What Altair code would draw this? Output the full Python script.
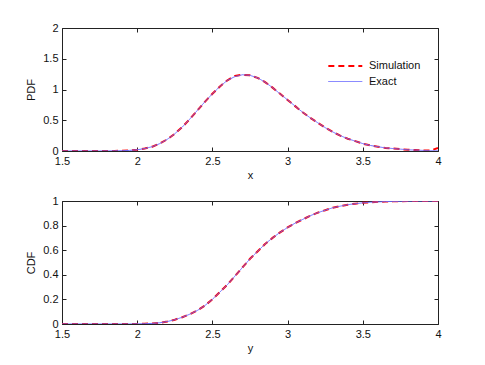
import altair as alt
import pandas as pd

xs = [1.5, 1.55, 1.6, 1.65, 1.7, 1.75, 1.8, 1.85, 1.9, 1.95,
      2.0, 2.05, 2.1, 2.15, 2.2, 2.25, 2.3, 2.35, 2.4, 2.45,
      2.5, 2.55, 2.6, 2.65, 2.7, 2.75, 2.8, 2.85, 2.9, 2.95,
      3.0, 3.05, 3.1, 3.15, 3.2, 3.25, 3.3, 3.35, 3.4, 3.45,
      3.5, 3.55, 3.6, 3.65, 3.7, 3.75, 3.8, 3.85, 3.9, 3.95, 4.0]

pdf_exact = [0, 0, 0, 0, 0, 0, 0.001, 0.002, 0.004, 0.01,
             0.02, 0.04, 0.07, 0.12, 0.19, 0.28, 0.39, 0.52, 0.66, 0.80,
             0.93, 1.05, 1.15, 1.21, 1.24, 1.23, 1.19, 1.12, 1.03, 0.93,
             0.83, 0.73, 0.63, 0.54, 0.46, 0.38, 0.31, 0.25, 0.20, 0.16,
             0.12, 0.09, 0.07, 0.05, 0.04, 0.03, 0.02, 0.015, 0.01, 0.005, 0.003]

pdf_sim = [0, 0, 0, 0, 0, 0, 0.001, 0.002, 0.005, 0.01,
           0.02, 0.04, 0.07, 0.12, 0.19, 0.28, 0.39, 0.52, 0.66, 0.80,
           0.93, 1.05, 1.15, 1.22, 1.24, 1.23, 1.19, 1.12, 1.03, 0.93,
           0.83, 0.73, 0.63, 0.54, 0.46, 0.38, 0.31, 0.25, 0.20, 0.16,
           0.12, 0.09, 0.07, 0.05, 0.04, 0.03, 0.02, 0.015, 0.01, 0.006, 0.05]

cdf_exact = [0, 0, 0, 0, 0, 0, 0, 0, 0, 0,
             0.001, 0.002, 0.005, 0.01, 0.02, 0.035, 0.055, 0.08, 0.11, 0.15,
             0.20, 0.26, 0.32, 0.39, 0.46, 0.53, 0.59, 0.65, 0.70, 0.745,
             0.785, 0.82, 0.85, 0.88, 0.905, 0.925, 0.945, 0.958, 0.97, 0.978,
             0.985, 0.99, 0.993, 0.995, 0.997, 0.998, 0.999, 1.0, 1.0, 1.0, 1.0]

cdf_sim = cdf_exact

series = ["Simulation", "Exact"]

rows_pdf = []
rows_cdf = []
for i, xv in enumerate(xs):
    rows_pdf.append({"x": xv, "v": pdf_sim[i], "s": series[0], "o": 0})
    rows_pdf.append({"x": xv, "v": pdf_exact[i], "s": series[1], "o": 1})
    rows_cdf.append({"x": xv, "v": cdf_sim[i], "s": series[0], "o": 0})
    rows_cdf.append({"x": xv, "v": cdf_exact[i], "s": series[1], "o": 1})
df_pdf = pd.DataFrame(rows_pdf)
df_cdf = pd.DataFrame(rows_cdf)

FONT = "Liberation Sans"
W, H = 376, 123
TICK = {"expr": "-4"}
BLUE = "#6b6bff"


def panel(df, ydom, ystep, ytitle, xtitle, legend):
    xticks = [1.5, 2, 2.5, 3, 3.5, 4]
    yticks = [round(ydom[0] + k * ystep, 2) for k in range(int(round((ydom[1] - ydom[0]) / ystep)) + 1)]
    xscale = alt.Scale(domain=[1.5, 4], nice=False, zero=False)
    yscale = alt.Scale(domain=ydom, nice=False)
    leg = alt.Legend(title="", orient="none", legendX=265, legendY=31,
                     symbolType="M-1,0L5,0", symbolSize=128, labelFontSize=11,
                     labelFont=FONT, rowPadding=4, labelOffset=28,
                     symbolStrokeWidth=2, labelColor="#111")
    enc_kwargs = dict(
        x=alt.X("x:Q", scale=xscale,
                axis=alt.Axis(values=xticks, format="~g", title=xtitle, grid=False,
                              tickSize=TICK, labelPadding=8, titlePadding=3,
                              labelFlush=False,
                              domainColor="#222", tickColor="#222",
                              labelFont=FONT, titleFont=FONT, labelFontSize=11,
                              titleFontSize=11, titleFontWeight="normal",
                              labelColor="#111", titleColor="#111")),
        y=alt.Y("v:Q", scale=yscale,
                axis=alt.Axis(values=yticks, format="~g", title=ytitle, grid=False,
                              tickSize=TICK, labelPadding=8, titlePadding=6,
                              labelFlush=False,
                              domainColor="#222", tickColor="#222",
                              labelFont=FONT, titleFont=FONT, labelFontSize=11,
                              titleFontSize=11, titleFontWeight="normal",
                              labelColor="#111", titleColor="#111")),
        order=alt.Order("o:Q"),
    )
    cscale = alt.Scale(domain=series, range=["#ff0000", BLUE])
    dscale = alt.Scale(domain=series, range=[[6, 4], [1, 0]])
    wscale = alt.Scale(domain=series, range=[2, 1])
    if legend:
        enc_kwargs["color"] = alt.Color("s:N", scale=cscale, legend=leg, sort=series)
        enc_kwargs["strokeDash"] = alt.StrokeDash("s:N", scale=dscale, legend=leg, sort=series)
        enc_kwargs["strokeWidth"] = alt.StrokeWidth("s:N", scale=wscale, legend=leg, sort=series)
    else:
        enc_kwargs["color"] = alt.Color("s:N", scale=cscale, legend=None)
        enc_kwargs["strokeDash"] = alt.StrokeDash("s:N", scale=dscale, legend=None)
        enc_kwargs["strokeWidth"] = alt.StrokeWidth("s:N", scale=wscale, legend=None)

    lines = alt.Chart(df).mark_line(clip=True).encode(detail="s:N", **enc_kwargs)

    frame = alt.Chart(df).mark_point(opacity=0).encode(
        x=alt.X("x:Q", scale=xscale,
                axis=alt.Axis(orient="top", values=xticks, labels=False, title="",
                              grid=False, tickSize=TICK, domainColor="#222", tickColor="#222")),
        y=alt.Y("v:Q", scale=yscale,
                axis=alt.Axis(orient="right", values=yticks, labels=False, title="",
                              grid=False, tickSize=TICK, domainColor="#222", tickColor="#222")),
    )
    return alt.layer(lines, frame).resolve_axis(x="independent", y="independent").properties(width=W, height=H)


top = panel(df_pdf, [0, 2], 0.5, "PDF", "x", True)
bottom = panel(df_cdf, [0, 1], 0.2, "CDF", "y", False)

chart = alt.vconcat(top, bottom, spacing=13).properties(
    padding={"left": 17, "top": 13, "right": 5, "bottom": 5}
).configure_view(stroke="#222", strokeWidth=1).configure(background="white")

chart.save("out.html", embed_options={"renderer": "svg", "actions": False})
